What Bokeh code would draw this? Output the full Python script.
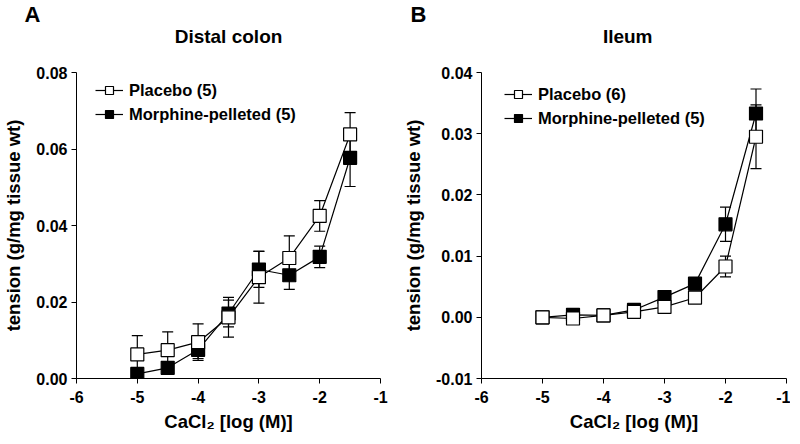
from bokeh.plotting import figure
from bokeh.layouts import row
from bokeh.models import (FixedTicker, PrintfTickFormatter, Legend, LegendItem,
                          Title, Range1d, ColumnDataSource)
from bokeh.embed import file_html
from bokeh.resources import INLINE

# ---------------- data ----------------
log_ca = [-5.0, -4.5, -4.0, -3.5, -3.0, -2.5, -2.0, -1.5]

colon_placebo = [0.0063, 0.0074, 0.0095, 0.0160, 0.0265, 0.0315, 0.0425, 0.0638]
colon_placebo_sem = [0.0049, 0.0048, 0.0048, 0.0052, 0.0068, 0.0058, 0.0040, 0.0057]
colon_morphine = [0.0012, 0.0028, 0.0075, 0.0170, 0.0285, 0.0270, 0.0318, 0.0577]
colon_morphine_sem = [0.0006, 0.0008, 0.0023, 0.0035, 0.0047, 0.0037, 0.0028, 0.0075]

ileum_placebo = [0.0000, -0.0002, 0.0003, 0.0009, 0.0017, 0.0032, 0.0083, 0.0295]
ileum_placebo_sem = [0.0002, 0.0002, 0.0002, 0.0003, 0.0004, 0.0006, 0.0017, 0.0052]
ileum_morphine = [0.0000, 0.0004, 0.0003, 0.0012, 0.0033, 0.0055, 0.0152, 0.0333]
ileum_morphine_sem = [0.0002, 0.0002, 0.0002, 0.0003, 0.0004, 0.0010, 0.0028, 0.0040]

x_ticks = [-6, -5, -4, -3, -2, -1]
colon_y_ticks = [0.0, 0.02, 0.04, 0.06, 0.08]
ileum_y_ticks = [-0.01, 0.0, 0.01, 0.02, 0.03, 0.04]

FONT = "Liberation Sans"


def make_panel(letter, title, placebo, placebo_sem, morph, morph_sem,
               n_plac, n_morph, y_rng, y_ticks, borders, width, letter_offset,
               title_align, title_offset, legend_loc):
    bl, br, bt, bb = borders
    p = figure(width=width, height=bt + 306 + bb, output_backend="svg",
               toolbar_location=None,
               x_range=Range1d(-6, -1), y_range=Range1d(*y_rng),
               min_border_left=bl, min_border_right=br,
               min_border_top=bt, min_border_bottom=bb)
    p.outline_line_color = None
    p.grid.visible = False
    p.background_fill_color = "white"

    for ax in (p.xaxis[0], p.yaxis[0]):
        ax.axis_line_color = "black"
        ax.axis_line_width = 1
        ax.major_tick_line_color = "black"
        ax.major_tick_out = 5
        ax.major_tick_in = 0
        ax.minor_tick_line_color = None
        ax.major_label_text_font = FONT
        ax.major_label_text_font_style = "bold"
        ax.major_label_text_font_size = "16px"
        ax.major_label_text_color = "black"
        ax.axis_label_text_font = FONT
        ax.axis_label_text_font_style = "bold"
        ax.axis_label_text_font_size = "18.5px"
        ax.axis_label_text_color = "black"

    p.xaxis.ticker = FixedTicker(ticks=x_ticks)
    p.xaxis.major_label_overrides = {t: str(t) for t in x_ticks}
    p.yaxis.ticker = FixedTicker(ticks=y_ticks)
    p.yaxis.formatter = PrintfTickFormatter(format="%.2f")
    p.xaxis.axis_label = "CaCl\u2082 [log (M)]"
    p.yaxis.axis_label = "tension (g/mg tissue wt)"
    p.xaxis.axis_label_standoff = 5
    p.yaxis.axis_label_standoff = 9
    p.xaxis.major_label_standoff = 7
    p.yaxis.major_label_standoff = 4

    def series(vals, sem):
        src = ColumnDataSource(dict(
            x=log_ca, y=vals,
            lo=[v - s for v, s in zip(vals, sem)],
            hi=[v + s for v, s in zip(vals, sem)]))
        ln = p.line("x", "y", source=src, line_color="black", line_width=1.2)
        p.segment(x0="x", y0="lo", x1="x", y1="hi", source=src,
                  line_color="black", line_width=1.2)
        p.dash(x="x", y="hi", source=src, size=11, line_color="black", line_width=1.2)
        p.dash(x="x", y="lo", source=src, size=11, line_color="black", line_width=1.2)
        return src, ln

    ms, mln = series(morph, morph_sem)
    ps, pln = series(placebo, placebo_sem)
    mmk = p.scatter("x", "y", source=ms, marker="square", size=13,
                    fill_color="black", line_color="black", line_width=1.2)
    pmk = p.scatter("x", "y", source=ps, marker="square", size=13,
                    fill_color="white", line_color="black", line_width=1.2)

    legend = Legend(items=[
        LegendItem(label="Placebo (%d)" % n_plac, renderers=[pln, pmk]),
        LegendItem(label="Morphine-pelleted (%d)" % n_morph, renderers=[mln, mmk]),
    ], location=legend_loc)
    legend.border_line_color = None
    legend.background_fill_alpha = 0
    legend.label_text_font = FONT
    legend.label_text_font_style = "bold"
    legend.label_text_font_size = "16.5px"
    legend.label_text_color = "black"
    legend.glyph_width = 28
    legend.glyph_height = 20
    legend.label_height = 20
    legend.label_standoff = 6
    legend.spacing = 4
    legend.padding = 0
    legend.margin = 0
    p.add_layout(legend)

    # spacer between the frame and the panel title
    p.add_layout(Title(text=" ", text_font_size="1px", standoff=25), "above")
    p.add_layout(Title(text=title, align=title_align, offset=title_offset,
                       text_font=FONT, text_font_style="bold",
                       text_font_size="19px", text_color="black",
                       standoff=-4), "above")
    p.add_layout(Title(text=letter, align="left", offset=letter_offset,
                       text_font=FONT, text_font_style="bold",
                       text_font_size="22px", text_color="black",
                       standoff=-2), "above")
    return p


pA = make_panel("A", "Distal colon", colon_placebo, colon_placebo_sem,
                colon_morphine, colon_morphine_sem, 5, 5,
                (0.0, 0.08), colon_y_ticks, (74, 18, 72, 58), 398, -52,
                "center", 0, (19, 254))
pB = make_panel("B", "Ileum", ileum_placebo, ileum_placebo_sem,
                ileum_morphine, ileum_morphine_sem, 6, 5,
                (-0.01, 0.04), ileum_y_ticks, (83, 4, 72, 58), 392, -71,
                "right", 134, (23, 250))

layout = row(pA, pB)
open("out.html", "w").write(file_html(layout, INLINE))
